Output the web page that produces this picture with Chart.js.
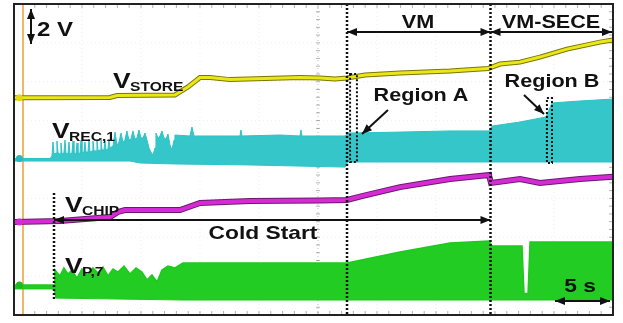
<!DOCTYPE html>
<html>
<head>
<meta charset="utf-8">
<script src="https://cdn.jsdelivr.net/npm/chart.js@4.4.0/dist/chart.umd.min.js"></script>
<style>
html,body{margin:0;padding:0;background:#fff;}
#wrap{width:623px;height:323px;}
</style>
</head>
<body>
<div id="wrap"><canvas id="scope"></canvas></div>
<script>
// x = time in s (5 s/div), y = screen volts (2 V/div, 8 div)
const storeT = [-0.76, 0, 7.37, 7.97, 12.88, 13.98, 15.0, 15.85, 17.54, 23.47, 25.17, 26.44, 27.46, 28.98, 31.95, 36.19, 39.41, 40.42, 42.12, 43.81, 46.1, 48.9, 50];
const storeV = [11.18, 11.18, 11.19, 11.29, 11.32, 11.73, 12.22, 12.22, 12.11, 12.22, 12.19, 12.14, 12.19, 12.35, 12.45, 12.55, 12.68, 12.91, 13.01, 13.27, 13.68, 14.04, 14.15];

const recLowT = [-0.76, 9.07, 9.92, 12.88, 19.24, 27.29, 27.54, 39.58, 50];
const recLowV = [7.92, 7.92, 7.82, 7.77, 7.72, 7.61, 7.87, 7.87, 7.87];
const recHighT = [-0.76, 2.29, 2.46, 2.54, 2.63, 2.80, 2.88, 2.97, 3.14, 3.22, 3.31, 3.47, 3.56, 3.64, 3.81, 3.90, 3.98, 4.15, 4.24, 4.32, 4.49, 4.58, 4.66, 4.83, 4.92, 5.0,
  5.17, 5.25, 5.34, 5.51, 5.59, 5.68, 5.85, 5.93, 6.02, 6.19, 6.27, 6.36, 6.53, 6.61, 6.69, 6.86, 6.95, 7.03, 7.20, 7.29, 7.37, 7.63, 7.80, 7.97, 8.14, 8.31, 8.47, 8.64, 8.81, 8.98,
  9.15, 9.32, 9.49, 9.66, 9.83, 10.0, 10.17, 10.34, 10.51, 10.68, 10.85, 11.02, 11.19, 11.27, 11.44, 11.61, 11.78, 11.95, 12.12, 12.29, 12.46, 12.63, 12.80, 12.88,
  14.15, 14.32, 14.49, 17.54, 18.39, 18.47, 18.56, 21.78, 23.47, 23.56, 23.64, 27.29, 27.54, 31.95, 36.19, 39.49, 39.75, 42.12, 44.32, 44.83, 47.2, 50];
const recHighV = [8.05, 8.05, 8.18, 8.90, 8.28, 8.33, 8.95, 8.33, 8.28, 8.85, 8.28, 8.33, 9.0, 8.33, 8.28, 8.90, 8.28, 8.33, 8.95, 8.33, 8.28, 8.85, 8.28, 8.33, 9.0, 8.33,
  8.38, 8.90, 8.38, 8.38, 9.05, 8.38, 8.44, 8.95, 8.44, 8.44, 9.0, 8.44, 8.49, 9.11, 8.49, 8.49, 8.95, 8.49, 8.54, 9.05, 8.59, 8.69, 9.41, 8.74, 8.90, 9.36, 8.90, 9.0, 9.47, 9.0,
  9.05, 9.47, 9.05, 9.11, 9.52, 9.11, 9.11, 9.36, 9.0, 8.59, 8.38, 8.23, 8.59, 9.36, 9.11, 9.21, 9.47, 9.11, 9.05, 9.31, 8.74, 8.49, 9.0, 9.26,
  9.21, 9.67, 9.21, 9.21, 9.21, 9.52, 9.21, 9.26, 9.21, 9.52, 9.21, 9.21, 9.36, 9.41, 9.47, 9.47, 9.72, 9.93, 10.19, 10.91, 11.01, 11.11];

const chipT = [-0.76, 3.14, 7.37, 8.05, 8.64, 13.31, 15.0, 19.24, 25.17, 27.46, 28.73, 31.95, 36.19, 39.49, 39.66, 42.12, 43.81, 47.2, 50];
const chipV = [4.78, 4.84, 5.04, 5.30, 5.40, 5.40, 5.76, 5.86, 5.89, 5.92, 6.12, 6.58, 7.0, 7.2, 6.79, 7.0, 6.79, 7.0, 7.11];

const p7LowT = [-0.76, 2.63, 2.80, 13.56, 50];
const p7LowV = [1.34, 1.34, 0.87, 0.77, 0.77];
const p7HighT = [-0.76, 2.63, 2.71, 3.14, 3.47, 3.81, 4.15, 4.58, 5.0, 5.51, 5.93, 6.36, 6.78, 7.20, 7.63, 8.05, 8.56, 9.07, 9.58, 10.08, 10.51, 10.93, 11.36, 11.78, 12.29, 12.88, 13.56, 27.46, 31.95, 36.19, 39.49, 39.75, 42.29, 42.46, 42.8, 42.97, 50];
const p7HighV = [1.54, 1.54, 2.31, 2.01, 2.42, 2.11, 2.31, 1.90, 2.37, 2.06, 2.42, 2.16, 2.47, 2.01, 2.37, 2.21, 2.52, 2.11, 2.42, 2.21, 1.80, 2.06, 1.70, 2.31, 2.52, 2.42, 2.67, 2.67, 3.24, 3.70, 3.81, 3.55, 3.55, 1.1, 1.1, 3.76, 3.76];

// cold start, VM, VM-SECE
const eventT = [2.63, 27.46, 39.62];

function pts(ts, vs) { return ts.map((t, i) => ({ x: t, y: vs[i] })); }

function head(ctx, x1, y1, x2, y2) {
  const a = Math.atan2(y2 - y1, x2 - x1);
  ctx.beginPath();
  ctx.moveTo(x2, y2);
  ctx.lineTo(x2 - 10 * Math.cos(a) + 4 * Math.sin(a), y2 - 10 * Math.sin(a) - 4 * Math.cos(a));
  ctx.lineTo(x2 - 10 * Math.cos(a) - 4 * Math.sin(a), y2 - 10 * Math.sin(a) + 4 * Math.cos(a));
  ctx.closePath();
  ctx.fill();
}
function arrow(ctx, x1, y1, x2, y2, both) {
  ctx.setLineDash([]);
  ctx.lineWidth = 2;
  ctx.beginPath(); ctx.moveTo(x1, y1); ctx.lineTo(x2, y2); ctx.stroke();
  head(ctx, x1, y1, x2, y2);
  if (both) head(ctx, x2, y2, x1, y1);
}
function txt(ctx, s, x, y, size, align) {
  ctx.save();
  ctx.translate(x, y);
  ctx.scale(1.2, 1);
  ctx.font = 'bold ' + size + 'px "Liberation Sans", Arial, sans-serif';
  ctx.textAlign = align || 'left';
  ctx.textBaseline = 'alphabetic';
  ctx.fillText(s, 0, 0);
  ctx.restore();
}
function vLabel(ctx, sub, x, y) {
  txt(ctx, 'V', x, y, 22);
  txt(ctx, sub, x + 17, y + 3, 13);
}
function dotted(ctx, x1, y1, x2, y2) {
  ctx.setLineDash([2, 2]);
  ctx.lineWidth = 2.5;
  ctx.beginPath(); ctx.moveTo(x1, y1); ctx.lineTo(x2, y2); ctx.stroke();
}

const scopeMarks = {
  id: 'scopeMarks',
  beforeDatasetsDraw(chart) {
    const { ctx, chartArea: a, scales: { x, y } } = chart;
    ctx.save();
    // graticule
    ctx.lineWidth = 1;
    ctx.setLineDash([1, 3]);
    ctx.strokeStyle = 'rgba(0,0,0,0.07)';
    for (let t = 5; t < 50; t += 5) {
      ctx.beginPath(); ctx.moveTo(x.getPixelForValue(t), a.top); ctx.lineTo(x.getPixelForValue(t), a.bottom); ctx.stroke();
    }
    for (let v = 2; v < 16; v += 2) {
      ctx.beginPath(); ctx.moveTo(x.getPixelForValue(0), y.getPixelForValue(v)); ctx.lineTo(a.right, y.getPixelForValue(v)); ctx.stroke();
    }
    ctx.strokeStyle = 'rgba(120,100,80,0.35)';
    const cx = x.getPixelForValue(25);
    ctx.beginPath(); ctx.moveTo(cx, a.top); ctx.lineTo(cx, a.bottom); ctx.stroke();
    ctx.setLineDash([]);
    ctx.strokeStyle = 'rgba(0,0,0,0.3)';
    for (let t = 1; t < 50; t += 1) {
      const px = x.getPixelForValue(t);
      ctx.beginPath(); ctx.moveTo(px, a.top); ctx.lineTo(px, a.top + 4); ctx.stroke();
      ctx.beginPath(); ctx.moveTo(px, a.bottom); ctx.lineTo(px, a.bottom - 4); ctx.stroke();
    }
    for (let v = 0.4; v < 16; v += 0.4) {
      const py = y.getPixelForValue(v);
      ctx.beginPath(); ctx.moveTo(cx - 2, py); ctx.lineTo(cx + 2, py); ctx.stroke();
      ctx.beginPath(); ctx.moveTo(a.right, py); ctx.lineTo(a.right - 4, py); ctx.stroke();
    }
    // trigger line
    ctx.strokeStyle = '#f3b46a';
    ctx.lineWidth = 2;
    const ox = x.getPixelForValue(0);
    ctx.beginPath(); ctx.moveTo(ox, a.top); ctx.lineTo(ox, a.bottom); ctx.stroke();
    ctx.restore();
  },
  afterDatasetsDraw(chart) {
    const { ctx, chartArea: a, scales: { x, y } } = chart;
    ctx.save();
    // channel markers
    chart.data.datasets.forEach(ds => {
      if (!ds.mark) return;
      ctx.fillStyle = ds.mark;
      ctx.beginPath();
      ctx.arc(x.getPixelForValue(-0.3), y.getPixelForValue(ds.data[0].y), 3.5, 0, Math.PI * 2);
      ctx.fill();
    });
    ctx.strokeStyle = '#111';
    ctx.fillStyle = '#111';
    const xc = x.getPixelForValue(eventT[0]);
    const xv = x.getPixelForValue(eventT[1]);
    const xs = x.getPixelForValue(eventT[2]);
    dotted(ctx, xc, 193, xc, 300);
    dotted(ctx, xv, a.top, xv, a.bottom);
    dotted(ctx, xs, a.top, xs, a.bottom);
    // region boxes
    ctx.setLineDash([2, 2]);
    ctx.lineWidth = 2;
    ctx.strokeRect(x.getPixelForValue(27.72), y.getPixelForValue(12.4), x.getPixelForValue(28.3) - x.getPixelForValue(27.72), y.getPixelForValue(7.87) - y.getPixelForValue(12.4));
    ctx.strokeRect(x.getPixelForValue(44.4), y.getPixelForValue(11.16), x.getPixelForValue(44.83) - x.getPixelForValue(44.4), y.getPixelForValue(7.82) - y.getPixelForValue(11.16));
    // arrows
    arrow(ctx, xv, 32, xs, 32, true);
    arrow(ctx, xs, 32, a.right - 1, 32, true);
    arrow(ctx, xc, 220, xs, 220, true);
    arrow(ctx, 555, 301, 610, 301, true);
    arrow(ctx, 388, 110, 362, 134, false);
    arrow(ctx, 524, 95, 544, 114, false);
    // 2 V scale arrow
    arrow(ctx, 31, 9, 31, 44, true);
    // texts
    txt(ctx, '2 V', 37, 36, 20);
    txt(ctx, 'VM', 418, 28, 18, 'center');
    txt(ctx, 'VM-SECE', 551, 28, 18, 'center');
    txt(ctx, 'Region A', 421, 101, 18, 'center');
    txt(ctx, 'Region B', 552, 87, 18, 'center');
    txt(ctx, 'Cold Start', 263, 239, 19, 'center');
    txt(ctx, '5 s', 580, 292, 19, 'center');
    vLabel(ctx, 'STORE', 113, 88);
    vLabel(ctx, 'REC,1', 52, 138);
    vLabel(ctx, 'CHIP', 65, 212);
    vLabel(ctx, 'P,7', 65, 273);
    // frame
    ctx.setLineDash([]);
    ctx.lineWidth = 2;
    ctx.strokeStyle = '#222';
    ctx.strokeRect(a.left, a.top, a.right - a.left, a.bottom - a.top);
    ctx.restore();
  }
};

const chart = new Chart(document.getElementById('scope'), {
  type: 'line',
  data: {
    datasets: [
      { label: 'store edge', data: pts(storeT, storeV), borderColor: '#7d7600', borderWidth: 5, order: 3 },
      { label: 'VSTORE', data: pts(storeT, storeV), borderColor: '#e9e71a', borderWidth: 3, order: 1, mark: '#e2d810' },
      { label: 'rec low', data: pts(recLowT, recLowV), borderColor: '#2ec3c6', borderWidth: 1, order: 2 },
      { label: 'VREC,1', data: pts(recHighT, recHighV), borderColor: '#2ec3c6', borderWidth: 1, fill: 2, backgroundColor: '#34c6c8', order: 2, mark: '#2ab8ba' },
      { label: 'chip edge', data: pts(chipT, chipV), borderColor: '#6a1a6a', borderWidth: 6, order: 3 },
      { label: 'VCHIP', data: pts(chipT, chipV), borderColor: '#d72ad7', borderWidth: 4, order: 1, mark: '#d72ad7' },
      { label: 'p7 low', data: pts(p7LowT, p7LowV), borderColor: '#1fc81f', borderWidth: 1, order: 2 },
      { label: 'VP,7', data: pts(p7HighT, p7HighV), borderColor: '#1fc81f', borderWidth: 1.5, fill: 6, backgroundColor: '#22cc22', order: 2, mark: '#1fb81f' }
    ]
  },
  options: {
    responsive: true,
    maintainAspectRatio: false,
    animation: false,
    layout: { padding: { left: 14, right: 10, top: 4, bottom: 8 } },
    elements: { point: { radius: 0 }, line: { tension: 0 } },
    scales: {
      x: { type: 'linear', min: -0.76, max: 50, display: false },
      y: { min: 0, max: 16, display: false }
    },
    plugins: { legend: { display: false }, tooltip: { enabled: false } }
  },
  plugins: [scopeMarks]
});
</script>
</body>
</html>
